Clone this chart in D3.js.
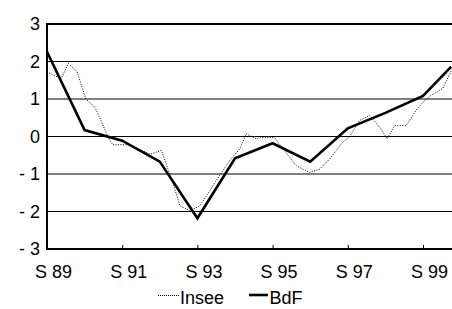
<!DOCTYPE html>
<html>
<head>
<meta charset="utf-8">
<script src="https://d3js.org/d3.v7.min.js"></script>
<style>
  body { margin: 0; background: #fff; }
  svg text { font-family: "Liberation Sans", Arial, sans-serif; font-size: 18px; fill: #000; }
</style>
</head>
<body>
<script>
// x is counted in months from S 89
var tickMonths = [0, 24, 48, 72, 96, 120];
var tickLabels = ["S 89", "S 91", "S 93", "S 95", "S 97", "S 99"];
var yTicks = [3, 2, 1, 0, -1, -2, -3];

var bdfMonths = [0, 12, 24, 36, 48, 60, 72, 84, 96, 108, 120, 129];
var bdfValues = [2.26, 0.17, -0.11, -0.67, -2.18, -0.58, -0.18, -0.67, 0.22, 0.63, 1.08, 1.86];

var inseeMonths = [0, 4.5, 6.8, 9.6, 12.4, 15.3, 17.4, 19.5, 21, 24, 26, 33, 36.5, 40.3, 42.4, 45.6, 48.8,
  55.1, 58.3, 61.5, 63.6, 66.8, 68, 72.7, 73.7, 79.6, 83.8, 87, 90.2, 94.4, 96.6, 99.8, 103,
  106.1, 108.6, 110.9, 114.6, 117.8, 120.5, 122.6, 126.3, 129];
var inseeValues = [1.72, 1.54, 1.95, 1.73, 1.0, 0.78, 0.39, -0.02, -0.22, -0.22, -0.22, -0.47, -0.37, -1.27, -1.85, -1.98, -1.85,
  -1.04, -0.64, -0.33, 0.07, -0.06, -0.03, -0.03, -0.15, -0.78, -0.96, -0.87, -0.6, -0.15, 0.0, 0.43, 0.56,
  0.25, -0.06, 0.29, 0.29, 0.7, 0.96, 1.1, 1.28, 1.75];

var width = 452, height = 309;
var plotLeft = 47, plotRight = 452, plotTop = 24, plotBottom = 249;

var svg = d3.select("body").append("svg")
  .attr("width", width)
  .attr("height", height);

var x = d3.scaleLinear().domain([0, 120]).range([plotLeft, 423]);
var y = d3.scaleLinear().domain([-3, 3]).range([plotBottom, plotTop]);

// grid
svg.append("g").selectAll("line")
  .data(yTicks.filter(function(d) { return d > -3 && d < 3; }))
  .enter().append("line")
  .attr("x1", plotLeft).attr("x2", plotRight)
  .attr("y1", function(d) { return y(d); })
  .attr("y2", function(d) { return y(d); })
  .attr("stroke", "#000")
  .attr("stroke-width", 1);

// y labels
svg.append("g").selectAll("text")
  .data(yTicks)
  .enter().append("text")
  .attr("x", 40)
  .attr("y", function(d) { return y(d); })
  .attr("dy", "0.35em")
  .attr("text-anchor", "end")
  .text(function(d) { return d < 0 ? "- " + Math.abs(d) : d; });

// x axis with small inward ticks
var xAxis = d3.axisBottom(x)
  .tickValues(tickMonths)
  .tickSizeInner(-4)
  .tickSizeOuter(0)
  .tickFormat(function(d, i) { return tickLabels[i]; });

var gx = svg.append("g")
  .attr("transform", "translate(0," + plotBottom + ")")
  .call(xAxis);
gx.select(".domain").remove();
gx.selectAll(".tick line").attr("stroke", "#000");
gx.selectAll(".tick text")
  .attr("dy", null)
  .attr("y", 28.5)
  .attr("x", 6);

// frame
svg.append("line").attr("x1", plotLeft - 1).attr("x2", plotRight).attr("y1", plotTop).attr("y2", plotTop)
  .attr("stroke", "#000").attr("stroke-width", 2);
svg.append("line").attr("x1", plotLeft - 1).attr("x2", plotRight).attr("y1", plotBottom).attr("y2", plotBottom)
  .attr("stroke", "#000").attr("stroke-width", 2);
svg.append("line").attr("x1", plotLeft).attr("x2", plotLeft).attr("y1", plotTop - 1).attr("y2", plotBottom + 1)
  .attr("stroke", "#000").attr("stroke-width", 2);

var line = d3.line()
  .x(function(d) { return x(d[0]); })
  .y(function(d) { return y(d[1]); });

svg.append("path")
  .datum(d3.zip(inseeMonths, inseeValues))
  .attr("d", line)
  .attr("fill", "none")
  .attr("stroke", "#000")
  .attr("stroke-width", 1)
  .attr("stroke-dasharray", "1,1.5");

svg.append("path")
  .datum(d3.zip(bdfMonths, bdfValues))
  .attr("d", line)
  .attr("fill", "none")
  .attr("stroke", "#000")
  .attr("stroke-width", 2.6)
  .attr("stroke-linejoin", "miter");

// legend
var lg = svg.append("g");
lg.append("line").attr("x1", 158).attr("x2", 179).attr("y1", 295.5).attr("y2", 295.5)
  .attr("stroke", "#000").attr("stroke-width", 1).attr("stroke-dasharray", "1,1");
lg.append("text").attr("x", 180).attr("y", 304).text("Insee");
lg.append("line").attr("x1", 249).attr("x2", 268).attr("y1", 295).attr("y2", 295)
  .attr("stroke", "#000").attr("stroke-width", 2.6);
lg.append("text").attr("x", 269.5).attr("y", 304).text("BdF");
</script>
</body>
</html>
